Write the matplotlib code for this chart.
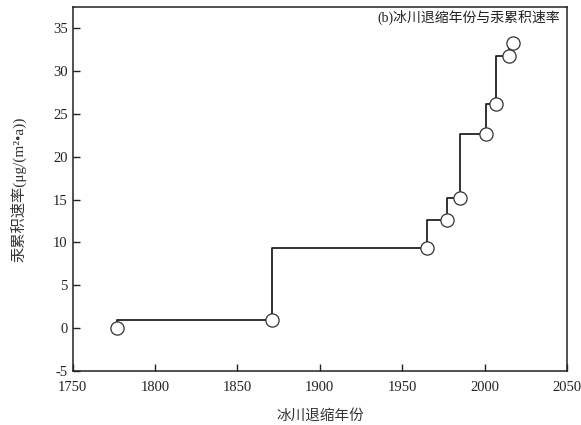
import matplotlib
matplotlib.use("Agg")
import matplotlib.pyplot as plt

plt.rcParams['font.family'] = ['Liberation Serif', 'Noto Sans CJK SC', 'DejaVu Sans']
plt.rcParams['axes.unicode_minus'] = False

# Glacier retreat year and mercury accumulation rate
years = [1777, 1871, 1965, 1977, 1985, 2001, 2007, 2015, 2017]
rates = [0.05, 0.9, 9.4, 12.6, 15.2, 22.6, 26.1, 31.8, 33.3]

x_ticks = [1750, 1800, 1850, 1900, 1950, 2000, 2050]
y_ticks = [-5, 0, 5, 10, 15, 20, 25, 30, 35]

fig = plt.figure(figsize=(5.81, 4.25), dpi=100)
ax = fig.add_axes([0.125, 0.127, 0.851, 0.857])

ax.step(years, rates, where='pre', color='#222222', linewidth=1.3, zorder=2)
ax.plot(years, rates, linestyle='none', marker='o', markersize=9.5,
        markerfacecolor='white', markeredgecolor='#333333', markeredgewidth=0.9,
        zorder=3)

ax.set_xlim(1750, 2050)
ax.set_ylim(-5, 37.5)
ax.set_xticks(x_ticks)
ax.set_yticks(y_ticks)
ax.tick_params(direction='in', length=5, width=1, labelsize=10.5, colors='#222222')
ax.tick_params(axis='x', pad=7)
for s in ax.spines.values():
    s.set_linewidth(1.1)
    s.set_color('#222222')

ax.set_xlabel('冰川退缩年份', fontsize=10.5, labelpad=11, color='#333333')
ax.set_ylabel('汞累积速率(μg/(m²•a))', fontsize=11, labelpad=19, color='#333333')
ax.text(0.986, 0.97, '(b)冰川退缩年份与汞累积速率', transform=ax.transAxes,
        ha='right', va='center', fontsize=10, color='#222222')

fig.savefig('out.png', dpi=100)
